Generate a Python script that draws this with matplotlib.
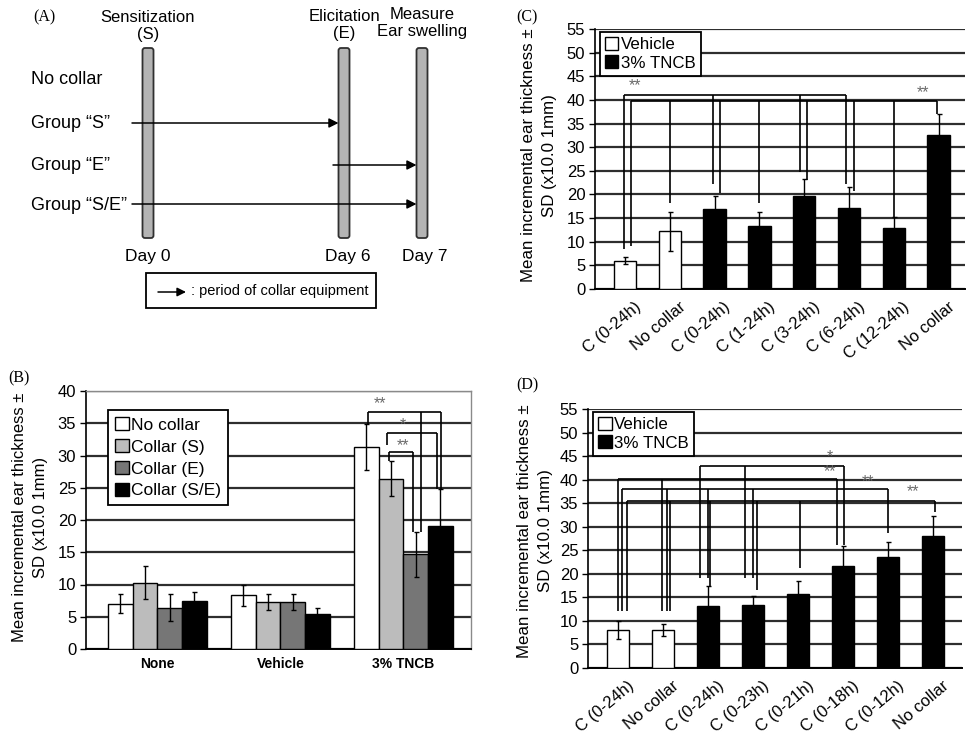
import matplotlib
matplotlib.use("Agg")
import matplotlib.pyplot as plt
import matplotlib.transforms as mtransforms
from matplotlib.patches import Patch, FancyBboxPatch, Rectangle
import numpy as np

plt.rcParams['font.family'] = ['Liberation Sans', 'DejaVu Sans']

# ---------------- data ----------------
# Panel A (schematic)
timeline_days = ["Day 0", "Day 6", "Day 7"]
timeline_events = ["Sensitization\n(S)", "Elicitation\n(E)", "Measure\nEar swelling"]
group_names = ["No collar", "Group \u201cS\u201d", "Group \u201cE\u201d", "Group \u201cS/E\u201d"]
collar_start = [None, 0, 1, 0]   # index into timeline
collar_end = [None, 1, 2, 2]
legend_a_text = ": period of collar equipment"

# Panel B
b_categories = ["None", "Vehicle", "3% TNCB"]
b_series = ["No collar", "Collar (S)", "Collar (E)", "Collar (S/E)"]
b_no_collar = [7.0, 8.3, 31.3]
b_no_collar_sd = [1.45, 1.65, 3.6]
b_collar_s = [10.3, 7.3, 26.4]
b_collar_s_sd = [2.5, 1.3, 2.75]
b_collar_e = [6.4, 7.3, 14.7]
b_collar_e_sd = [2.1, 1.3, 3.5]
b_collar_se = [7.4, 5.4, 19.0]
b_collar_se_sd = [1.5, 0.9, 5.8]

# Panel C
c_labels = ["C (0-24h)", "No collar", "C (0-24h)", "C (1-24h)", "C (3-24h)",
            "C (6-24h)", "C (12-24h)", "No collar"]
c_treatment = ["Vehicle", "Vehicle", "3% TNCB", "3% TNCB", "3% TNCB",
               "3% TNCB", "3% TNCB", "3% TNCB"]
c_values = [6.0, 12.2, 16.9, 13.4, 19.7, 17.1, 12.8, 32.5]
c_sd = [0.7, 4.1, 2.7, 2.8, 3.6, 4.4, 2.5, 4.6]

# Panel D
d_labels = ["C (0-24h)", "No collar", "C (0-24h)", "C (0-23h)", "C (0-21h)",
            "C (0-18h)", "C (0-12h)", "No collar"]
d_treatment = ["Vehicle", "Vehicle", "3% TNCB", "3% TNCB", "3% TNCB",
               "3% TNCB", "3% TNCB", "3% TNCB"]
d_values = [8.1, 8.1, 13.1, 13.4, 15.8, 21.7, 23.6, 28.0]
d_sd = [1.9, 1.25, 4.4, 1.8, 2.7, 4.3, 3.1, 4.3]

y_label = "Mean incremental ear thickness \u00b1\nSD (x10.0 1mm)"

# significance brackets: (bar index, small x shift, leg bottom)
b_brackets = [
    dict(level=36.7, legs=[(0, 0.01, 34.9), (2, 0.04, 18.1), (3, 0.01, 24.8)], mark="**", mx=1.81, my=38.0),
    dict(level=33.5, legs=[(1, -0.03, 31.7), (3, -0.03, 24.8)], mark="*", mx=2.0, my=34.8),
    dict(level=30.6, legs=[(1, -0.02, 29.1), (2, -0.02, 18.1)], mark="**", mx=2.0, my=31.6),
]
c_brackets = [
    dict(level=41.0, legs=[(0, -0.02, 8.5), (2, -0.03, 22.2), (4, -0.10, 24.8), (5, -0.07, 22.2)],
         mark="**", mx=0.22, my=43.1),
    dict(level=39.7, legs=[(0, 0.13, 9.0), (1, 0.0, 18.1), (2, 0.13, 20.4), (3, 0.0, 18.1),
                           (4, 0.06, 23.0), (5, 0.11, 20.8), (6, 0.0, 15.3), (7, -0.03, 37.1)],
         mark="**", mx=6.65, my=41.5),
]
d_brackets = [
    dict(level=42.9, legs=[(2, -0.18, 19.2), (3, -0.18, 19.2), (5, 0.02, 26.2)], mark="*", mx=4.71, my=44.8),
    dict(level=40.2, legs=[(0, -0.01, 12.2), (1, -0.02, 12.2), (5, -0.13, 26.2)], mark="**", mx=4.71, my=41.8),
    dict(level=38.0, legs=[(0, 0.09, 12.2), (1, 0.08, 12.2), (2, 0.0, 19.2), (3, 0.0, 19.2), (6, 0.0, 28.7)],
         mark="**", mx=5.56, my=39.6),
    dict(level=35.5, legs=[(0, 0.19, 12.2), (1, 0.15, 12.2), (2, 0.04, 17.4), (3, 0.08, 16.6),
                           (4, 0.04, 21.2), (7, 0.03, 33.2)], mark="**", mx=6.55, my=37.5),
]

# ---------------- figure ----------------
PX_W, PX_H = 972, 738
fig = plt.figure(figsize=(PX_W / 100, PX_H / 100), dpi=100)


def fig_rect(x0, y0, x1, y1):
    return [x0 / PX_W, 1 - y1 / PX_H, (x1 - x0) / PX_W, (y1 - y0) / PX_H]


GRID = '#2e2e2e'
ERR = dict(ecolor='black', elinewidth=1.0, capsize=1.8, capthick=1.0)


def style_axes(ax, ymax):
    ax.set_ylim(0, ymax)
    ax.set_yticks(np.arange(0, ymax + 1, 5))
    ax.yaxis.grid(True, color=GRID, lw=1.6)
    ax.set_axisbelow(True)
    ax.tick_params(axis='y', labelsize=12, length=4, width=1, direction='out', pad=3)
    ax.tick_params(axis='x', length=0)
    ax.spines['left'].set_color('black')
    ax.spines['left'].set_linewidth(1.2)
    ax.spines['bottom'].set_color('black')
    ax.spines['bottom'].set_linewidth(1.4)


def draw_brackets(ax, brackets, positions):
    for br in brackets:
        xs = [positions[i] + dx for i, dx, _ in br['legs']]
        ax.plot([min(xs), max(xs)], [br['level'], br['level']], color='black', lw=1.2, zorder=5,
                solid_capstyle='butt')
        for (i, dx, bottom), xx in zip(br['legs'], xs):
            ax.plot([xx, xx], [br['level'], bottom], color='black', lw=1.2, zorder=5,
                    solid_capstyle='butt')
        ax.text(br['mx'], br['my'], br['mark'], ha='center', va='center', fontsize=11.5,
                color='#6a6a6a', zorder=8)


# ---- overlay axes in pixel coordinates (panel A + panel letters) ----
ax0 = fig.add_axes([0, 0, 1, 1], zorder=0)
ax0.set_xlim(0, PX_W)
ax0.set_ylim(PX_H, 0)
ax0.axis('off')

col_x = [148, 344, 422]
title_y = [26, 25, 23]
day_x = [148, 348, 425]
row_y = [80, 124, 166, 205]
bar_top, bar_bot, bar_w = 48, 238, 11
r = 2.5
for cx in col_x:
    ax0.add_patch(FancyBboxPatch((cx - bar_w / 2 + r, bar_top + r), bar_w - 2 * r, bar_bot - bar_top - 2 * r,
                                 boxstyle=f"round,pad={r}", facecolor='#b4b4b4', edgecolor='#303030', lw=1.3))
for cx, ty, ev in zip(col_x, title_y, timeline_events):
    ax0.text(cx, ty, ev, ha='center', va='center', fontsize=12, linespacing=1.15, multialignment='center')
for dx_, day in zip(day_x, timeline_days):
    ax0.text(dx_, 256, day, ha='center', va='center', fontsize=12.5)
for gy, name, s, e in zip(row_y, group_names, collar_start, collar_end):
    ax0.text(31, gy, name, ha='left', va='center', fontsize=13)
    if s is not None:
        x_start = col_x[s] - (16 if s == 0 else 11)
        x_end = col_x[e] - bar_w / 2
        ax0.annotate('', xy=(x_end, gy - 1), xytext=(x_start, gy - 1),
                     arrowprops=dict(arrowstyle='-|>', mutation_scale=14, lw=1.1, color='black',
                                     shrinkA=0, shrinkB=0), zorder=4)
ax0.add_patch(Rectangle((146, 273), 230, 35, fill=False, edgecolor='black', lw=1.3))
ax0.annotate('', xy=(186, 292), xytext=(158, 292),
             arrowprops=dict(arrowstyle='-|>', mutation_scale=13, lw=1.1, color='black', shrinkA=0, shrinkB=0))
ax0.text(191, 291, legend_a_text, ha='left', va='center', fontsize=10.5)

serif = ['Liberation Serif', 'DejaVu Serif']
ax0.text(33, 17, "(A)", ha='left', va='center', fontsize=11.5, family=serif)
ax0.text(8, 378, "(B)", ha='left', va='center', fontsize=11.5, family=serif)
ax0.text(516, 17, "(C)", ha='left', va='center', fontsize=11.5, family=serif)
ax0.text(516, 385, "(D)", ha='left', va='center', fontsize=11.5, family=serif)

# ---------------- panel B ----------------
axB = fig.add_axes(fig_rect(86, 391, 471, 649), zorder=2)
style_axes(axB, 40)
xB = np.arange(len(b_categories))
b_vals = [b_no_collar, b_collar_s, b_collar_e, b_collar_se]
b_sds = [b_no_collar_sd, b_collar_s_sd, b_collar_e_sd, b_collar_se_sd]
b_colors = ['white', '#bcbcbc', '#767676', 'black']
b_width = 0.2
b_offsets = [-0.3, -0.1, 0.1, 0.3]
for vals, sds, col, off, name in zip(b_vals, b_sds, b_colors, b_offsets, b_series):
    axB.bar(xB + off, vals, b_width, color=col, edgecolor='black', lw=1.0, yerr=sds,
            error_kw=ERR, zorder=3, label=name)
axB.set_xlim(-0.58, 2.55)
axB.set_xticks(xB)
axB.set_xticklabels(b_categories, fontsize=10, fontweight='bold')
axB.tick_params(axis='x', pad=6)
for side in ['top', 'right']:
    axB.spines[side].set_color('#8a8a8a')
    axB.spines[side].set_linewidth(1.0)
axB.set_ylabel(y_label, fontsize=12, linespacing=1.55, va='center', ha='center')
axB.yaxis.set_label_coords(-0.145, 0.51)
b_positions = [2 + o for o in b_offsets]
draw_brackets(axB, b_brackets, b_positions)
handles = [Patch(facecolor=c, edgecolor='black', lw=1.0, label=n) for c, n in zip(b_colors, b_series)]
leg = axB.legend(handles=handles, loc='upper left', bbox_to_anchor=(0.057, 0.926), fontsize=12.5,
                 frameon=True, fancybox=False, edgecolor='black', framealpha=1,
                 handlelength=0.8, handleheight=0.8, handletextpad=0.15, labelspacing=0.36,
                 borderpad=0.4, borderaxespad=0)
leg.get_frame().set_linewidth(1.3)
leg.set_zorder(7)

# ---------------- panels C & D ----------------
treat_colors = {"Vehicle": 'white', "3% TNCB": 'black'}


def bar_panel(rect, labels, treatments, values, sds, brackets, xlim, label_coords):
    ax = fig.add_axes(fig_rect(*rect), zorder=2)
    style_axes(ax, 55)
    x = np.arange(len(labels))
    ax.bar(x, values, 0.5, color=[treat_colors[t] for t in treatments], edgecolor='black', lw=1.0,
           yerr=sds, error_kw=ERR, zorder=3)
    ax.set_xlim(*xlim)
    for side in ['top', 'right']:
        ax.spines[side].set_visible(False)
    ax.set_xticks(x)
    ax.set_xticklabels(labels, fontsize=12, rotation=40, ha='right', rotation_mode='anchor')
    offset = mtransforms.ScaledTranslation(0.09, -0.05, fig.dpi_scale_trans)
    for lab in ax.get_xticklabels():
        lab.set_transform(lab.get_transform() + offset)
    ax.set_ylabel(y_label, fontsize=12.2, linespacing=1.5, va='center', ha='center')
    ax.yaxis.set_label_coords(*label_coords)
    draw_brackets(ax, brackets, list(x))
    handles = [Patch(facecolor=treat_colors[t], edgecolor='black', lw=1.0, label=t)
               for t in ["Vehicle", "3% TNCB"]]
    lg = ax.legend(handles=handles, loc='upper left', bbox_to_anchor=(0.013, 0.99), fontsize=12.2,
                   frameon=True, fancybox=False, edgecolor='black', framealpha=1,
                   handlelength=0.8, handleheight=0.8, handletextpad=0.15, labelspacing=0.2,
                   borderpad=0.3, borderaxespad=0)
    lg.get_frame().set_linewidth(1.3)
    lg.set_zorder(7)
    return ax


axC = bar_panel((595, 29, 965, 289), c_labels, c_treatment, c_values, c_sd, c_brackets,
                (-0.67, 7.59), (-0.151, 0.515))
axD = bar_panel((588, 409, 962, 668), d_labels, d_treatment, d_values, d_sd, d_brackets,
                (-0.67, 7.64), (-0.142, 0.53))

fig.savefig("out.png", dpi=100)
